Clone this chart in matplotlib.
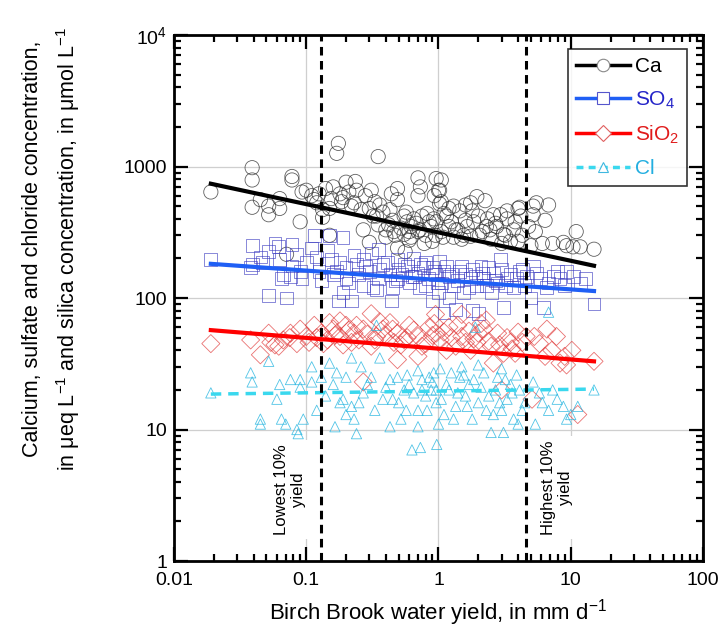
import matplotlib
matplotlib.use('Agg')
from matplotlib import pyplot as plt
from matplotlib.lines import Line2D

plt.rcParams['font.family'] = ['Liberation Sans', 'DejaVu Sans']
plt.rcParams['mathtext.fontset'] = 'custom'
plt.rcParams['mathtext.rm'] = 'Liberation Sans'
plt.rcParams['mathtext.it'] = 'Liberation Sans:italic'
plt.rcParams['mathtext.bf'] = 'Liberation Sans:bold'

# calcium, ueq/L
ca_x = [0.019, 0.039, 0.039, 0.039, 0.045, 0.052, 0.052, 0.063, 0.063, 0.078, 0.078, 0.09, 0.071, 0.093,
        0.1, 0.11, 0.12, 0.133, 0.133, 0.155, 0.175, 0.17, 0.35, 0.235, 0.24, 0.18, 0.21, 0.15, 0.185,
        0.22, 0.26, 0.3, 0.31, 0.36, 0.34, 0.43, 0.49, 0.49, 0.55, 0.7, 0.7, 0.73, 0.49, 0.56, 0.3, 0.4,
        0.46, 0.27, 0.6, 0.7, 0.15, 0.6, 0.55,
        0.96, 1.0, 1.05, 1.1, 0.96, 1.02, 1.2, 1.3, 1.6, 1.75, 1.95, 2.25, 1.8, 2.0, 2.6, 2.95, 3.3, 3.3,
        2.7, 2.3, 1.6, 1.4, 1.05, 1.75, 2.15, 3.1, 3.7, 4.0, 4.1, 4.2, 5.2, 5.5, 6.8, 5.2, 6.4, 5.4, 4.0,
        5.0, 6.1, 7.3, 8.8, 11.0, 9.3, 10.4, 11.8, 15.0, 1.05, 1.02, 0.93,
        0.62, 0.8, 0.85, 0.9, 0.75, 0.65, 0.58, 0.95, 1.2, 1.3, 1.5, 2.5, 3.5, 0.45, 0.35, 0.4,
        0.32, 0.38, 0.42, 0.47, 0.52, 0.57, 0.62, 0.68, 0.72, 0.78, 0.82, 0.88, 0.92, 1.08, 1.15, 1.25,
        1.35, 1.45, 1.55, 1.65, 1.85, 2.05, 2.35, 2.45, 2.75, 3.0, 3.2, 3.8, 4.3, 4.8, 0.115, 0.125,
        0.14, 0.16, 0.19, 0.2, 0.23, 0.28, 0.33, 0.44]
ca_y = [640, 980, 790, 490, 560, 500, 430, 480, 570, 840, 790, 380, 215, 640,
        660, 600, 530, 410, 470, 570, 1500, 1260, 1190, 770, 660, 620, 640, 480, 540,
        500, 470, 480, 660, 510, 420, 470, 680, 560, 420, 820, 600, 700, 240, 225, 265, 330,
        320, 330, 275, 320, 300, 320, 305,
        810, 660, 540, 440, 380, 520, 480, 500, 510, 530, 590, 550, 460, 420, 430, 430, 400, 460,
        370, 350, 390, 330, 320, 295, 320, 305, 330, 480, 490, 420, 500, 530, 510, 430, 390, 320, 270,
        250, 260, 260, 265, 320, 250, 245, 245, 235, 790, 660, 600,
        350, 300, 380, 270, 420, 400, 380, 300, 350, 290, 280, 280, 270, 390, 360, 290,
        420, 450, 360, 300, 340, 450, 290, 370, 330, 260, 440, 350, 400, 290, 420, 380,
        330, 460, 300, 350, 380, 300, 400, 330, 350, 260, 300, 380, 300, 350, 560, 620,
        680, 700, 580, 760, 530, 600, 540, 620]

# sulfate, ueq/L
so4_x = [0.019, 0.039, 0.039, 0.045, 0.052, 0.052, 0.062, 0.063, 0.071, 0.078, 0.078, 0.085, 0.093, 0.1,
         0.115, 0.12, 0.13, 0.15, 0.155, 0.18, 0.19, 0.19, 0.175, 0.22, 0.24, 0.27, 0.31, 0.35, 0.38,
         0.34, 0.27, 0.43, 0.49, 0.44, 0.55, 0.63, 0.73, 0.8, 0.49, 0.2, 0.125, 0.038, 0.047, 0.067, 0.076,
         0.93, 0.98, 1.02, 1.2, 1.3, 1.5, 1.7, 1.9, 2.1, 2.3, 2.6, 2.95, 3.3, 3.7, 4.1, 4.6, 5.2, 5.9,
         6.6, 7.4, 8.3, 9.3, 10.5, 11.8, 13.0, 15.0, 6.2, 5.0, 3.1, 1.8, 1.35, 1.1, 2.0,
         0.5, 0.6, 0.7, 0.8, 0.9, 1.1, 1.4, 1.6, 1.8, 2.2, 2.8, 3.5, 4.5, 0.45, 0.65, 1.0, 2.5, 1.2,
         0.9, 0.35, 0.3, 0.25, 0.2, 0.17,
         0.21, 0.23, 0.28, 0.32, 0.36, 0.41, 0.47, 0.53, 0.58, 0.66, 0.72, 0.77, 0.84, 0.95, 1.05, 1.15,
         1.25, 1.45, 1.55, 1.75, 1.95, 2.15, 2.4, 2.7, 3.0, 3.2, 3.9, 4.3, 5.5, 6.8, 7.9, 9.0, 0.145,
         0.16, 0.11, 0.09, 0.065, 0.058]
so4_y = [195, 250, 180, 205, 225, 105, 245, 195, 100, 255, 175, 215, 140, 185,
         300, 205, 135, 300, 195, 185, 290, 110, 95, 95, 180, 195, 220, 235, 180,
         115, 125, 150, 195, 95, 180, 145, 180, 185, 140, 140, 160, 170, 185, 150, 145,
         160, 130, 190, 145, 125, 175, 120, 145, 175, 125, 155, 195, 140, 120, 160, 145, 175, 140,
         120, 145, 140, 160, 145, 130, 140, 90, 85, 100, 85, 80, 82, 77, 76,
         165, 130, 155, 125, 170, 160, 135, 150, 165, 140, 130, 150, 125, 120, 200, 110, 110, 100,
         95, 140, 160, 150, 170, 160,
         130, 210, 175, 120, 165, 185, 135, 150, 175, 145, 120, 170, 140, 150, 130, 175,
         150, 160, 110, 140, 125, 155, 170, 135, 165, 125, 140, 165, 155, 130, 160, 125, 230,
         150, 240, 160, 140, 260]

# silica, umol/L
sio2_x = [0.019, 0.038, 0.045, 0.052, 0.054, 0.062, 0.067, 0.076, 0.085, 0.1, 0.105, 0.115, 0.13, 0.145,
          0.15, 0.16, 0.18, 0.18, 0.2, 0.22, 0.23, 0.25, 0.27, 0.31, 0.31, 0.34, 0.38, 0.43, 0.46,
          0.49, 0.55, 0.6, 0.7, 0.75, 0.49, 0.27, 0.7,
          0.96, 0.93, 0.95, 1.03, 1.2, 1.35, 1.5, 1.75, 1.95, 2.0, 2.3, 2.5, 2.8, 3.1, 3.5, 3.8, 4.0,
          4.6, 5.3, 6.6, 7.8, 6.4, 8.3, 9.3, 10.2, 15.0, 11.3, 3.0, 5.1, 1.5, 2.1, 2.6,
          0.09, 0.12, 0.135, 0.165, 0.19, 0.21, 0.24, 0.29, 0.33, 0.36, 0.4, 0.45, 0.52, 0.58, 0.65,
          0.8, 0.85, 0.9, 1.1, 1.15, 1.25, 1.4, 1.6, 1.7, 1.85, 2.2, 2.4, 2.9, 3.3, 3.6, 4.3, 5.8,
          7.2, 9.0, 0.075, 0.058]
sio2_y = [45, 48, 37, 54, 46, 43, 48, 54, 45, 51, 46, 62, 54, 48,
          65, 58, 67, 51, 62, 46, 54, 48, 58, 43, 76, 51, 58, 65, 46,
          54, 48, 62, 51, 43, 34, 23, 36,
          54, 64, 75, 48, 60, 43, 51, 40, 46, 54, 68, 43, 54, 38, 46, 38, 55,
          51, 51, 58, 51, 36, 32, 31, 40, 33, 13, 20, 17, 75, 64, 32,
          58, 50, 45, 52, 44, 57, 62, 53, 48, 66, 52, 58, 44, 50, 57,
          45, 60, 52, 55, 40, 50, 62, 46, 56, 49, 58, 47, 44, 50, 41, 46, 45,
          40, 36, 50, 44]

# chloride, ueq/L
cl_x = [0.019, 0.038, 0.039, 0.045, 0.045, 0.052, 0.063, 0.065, 0.07, 0.076, 0.085, 0.09, 0.09, 0.095,
        0.087, 0.11, 0.11, 0.13, 0.15, 0.16, 0.18, 0.2, 0.22, 0.23, 0.24, 0.26, 0.27, 0.31, 0.36, 0.34,
        0.38, 0.43, 0.49, 0.55, 0.57, 0.63, 0.73, 0.7, 0.22, 0.19, 0.165, 0.43, 0.7, 0.75,
        0.96, 0.9, 0.96, 1.03, 1.2, 1.35, 1.45, 1.6, 1.8, 1.9, 2.1, 2.3, 2.5, 3.1, 2.8, 3.3, 3.7, 4.1,
        5.2, 5.4, 6.1, 6.8, 7.3, 8.8, 9.3, 11.3, 15.0, 6.8, 0.97, 1.5, 3.0,
        0.6, 0.8, 0.85, 1.1, 1.25, 1.7, 2.4, 2.6, 3.5, 4.5, 0.7, 1.0, 0.5, 2.0, 3.0, 4.0,
        0.25, 0.29, 0.33, 0.4, 0.45, 0.52, 0.58, 0.65, 0.75, 0.82, 0.88, 0.92, 1.05, 1.15, 1.3, 1.4,
        1.55, 1.65, 1.85, 2.0, 2.2, 2.7, 2.9, 3.2, 3.6, 3.9, 4.3, 5.8, 7.9, 10.0, 0.12, 0.14, 0.17,
        0.2, 0.06]
cl_y = [19, 27, 23, 12, 11, 33, 22, 12, 11, 24, 10, 24, 21, 12,
        9.3, 30, 23, 25, 32, 22, 16, 25, 35, 12, 9.3, 30, 19, 25, 35, 62,
        17, 10.5, 25, 20, 14, 7, 7.3, 10.5, 15, 17, 10.5, 24, 28, 20,
        20, 23, 16, 29, 20, 15, 25, 18, 12, 60, 21, 14, 9.5, 9.5, 25, 17, 12, 20,
        23, 11, 16, 14, 20, 15, 12, 15, 20, 78, 7.7, 30, 29,
        22, 18, 25, 13, 27, 22, 18, 13, 22, 16, 14, 11, 16, 31, 14, 11,
        16, 22, 14, 21, 17, 12, 26, 19, 24, 14, 20, 27, 17, 22, 12, 19,
        26, 15, 24, 16, 27, 20, 16, 24, 19, 26, 14, 19, 17, 13, 14, 18, 27,
        13, 17]

# trend lines (ends of the fitted range)
fit_x = [0.019, 15.0]
ca_fit = [740, 176]
so4_fit = [182, 113]
sio2_fit = [57, 33]
cl_fit = [18.6, 20.3]

# lowest / highest 10% yield thresholds
low_yield = 0.129
high_yield = 4.6

fig = plt.figure(figsize=(7.21, 6.30), dpi=100)
ax = fig.add_axes([0.2413, 0.1095, 0.7337, 0.8349])
ax.set_xscale('log')
ax.set_yscale('log')
ax.set_xlim(0.01, 100)
ax.set_ylim(1, 10000)

ax.grid(True, which='major', color='#cfcfcf', lw=0.9, zorder=0)
ax.set_axisbelow(True)

ax.scatter(ca_x, ca_y, s=105, marker='o', facecolors='none', edgecolors='#2a2a2a', linewidths=0.6,
           alpha=0.75, zorder=2)
ax.scatter(so4_x, so4_y, s=85, marker='s', facecolors='none', edgecolors='#3a3ac0', linewidths=0.6,
           alpha=0.7, zorder=2)
ax.scatter(sio2_x, sio2_y, s=85, marker='D', facecolors='none', edgecolors='#e03535', linewidths=0.6,
           alpha=0.7, zorder=2)
ax.scatter(cl_x, cl_y, s=55, marker='^', facecolors='none', edgecolors='#25b5e0', linewidths=0.6,
           alpha=0.8, zorder=2)

ax.plot(fit_x, ca_fit, color='black', lw=3, zorder=4)
ax.plot(fit_x, so4_fit, color='#1f5ff5', lw=3, zorder=4)
ax.plot(fit_x, sio2_fit, color='#ff0000', lw=3, zorder=4)
ax.plot(fit_x, cl_fit, color='#3ad8ee', lw=2.5, ls=(0, (3, 2)), zorder=4)

ax.axvline(low_yield, color='black', lw=2.2, ls=(0, (2.8, 1.8)), zorder=5)
ax.axvline(high_yield, color='black', lw=2.2, ls=(0, (2.8, 1.8)), zorder=5)

ax.text(0.075, 3.5, 'Lowest 10%\nyield', rotation=90, ha='center', va='center', fontsize=12,
        bbox=dict(facecolor='white', edgecolor='none', pad=3), zorder=3)
ax.text(7.9, 3.6, 'Highest 10%\nyield', rotation=90, ha='center', va='center', fontsize=12,
        bbox=dict(facecolor='white', edgecolor='none', pad=3), zorder=3)

ax.set_xticks([0.01, 0.1, 1, 10, 100])
ax.set_xticklabels(['0.01', '0.1', '1', '10', '100'])
ax.set_yticks([1, 10, 100, 1000, 10000])
ax.set_yticklabels(['1', '10', '100', '1000', '10$^4$'])
ax.tick_params(which='both', direction='in', top=True, right=True, labelsize=14, width=1.6)
ax.tick_params(which='major', length=10)
ax.tick_params(axis='x', which='major', pad=8)
ax.tick_params(axis='y', which='major', pad=5)
ax.tick_params(which='minor', length=5)
for sp in ax.spines.values():
    sp.set_linewidth(2)

ax.set_xlabel('Birch Brook water yield, in mm d$^{-1}$', fontsize=16, labelpad=6)
fig.text(0.072, 0.605, 'Calcium, sulfate and chloride concentration,\n'
         'in \u03bceq L$^{-1}$ and silica concentration, in \u03bcmol L$^{-1}$',
         rotation=90, ha='center', va='center', fontsize=15.5, linespacing=1.5, multialignment='center')

handles = [
    Line2D([], [], color='black', lw=2.5, marker='o', ms=9, mfc='white', mec='#888888', mew=0.8),
    Line2D([], [], color='#1f5ff5', lw=2.5, marker='s', ms=9, mfc='white', mec='#5555cc', mew=0.8),
    Line2D([], [], color='#ff0000', lw=2.5, marker='D', ms=8, mfc='white', mec='#e06060', mew=0.8),
    Line2D([], [], color='#3ad8ee', lw=2.5, ls=(0, (2, 1.5)), marker='^', ms=7, mfc='white',
           mec='#40b8e0', mew=0.8),
]
labels = ['Ca', 'SO$_4$', 'SiO$_2$', 'Cl']
leg = ax.legend(handles, labels, loc='upper right', fontsize=15, frameon=True, fancybox=False,
                edgecolor='black', handlelength=2.6, handletextpad=0.2, labelspacing=0.62,
                borderpad=0.4, bbox_to_anchor=(0.99, 0.993))
leg.get_frame().set_linewidth(1.2)
for txt, c in zip(leg.get_texts(), ['black', '#2424c8', '#e01b1b', '#22aee0']):
    txt.set_color(c)

fig.savefig('out.png', dpi=100)
